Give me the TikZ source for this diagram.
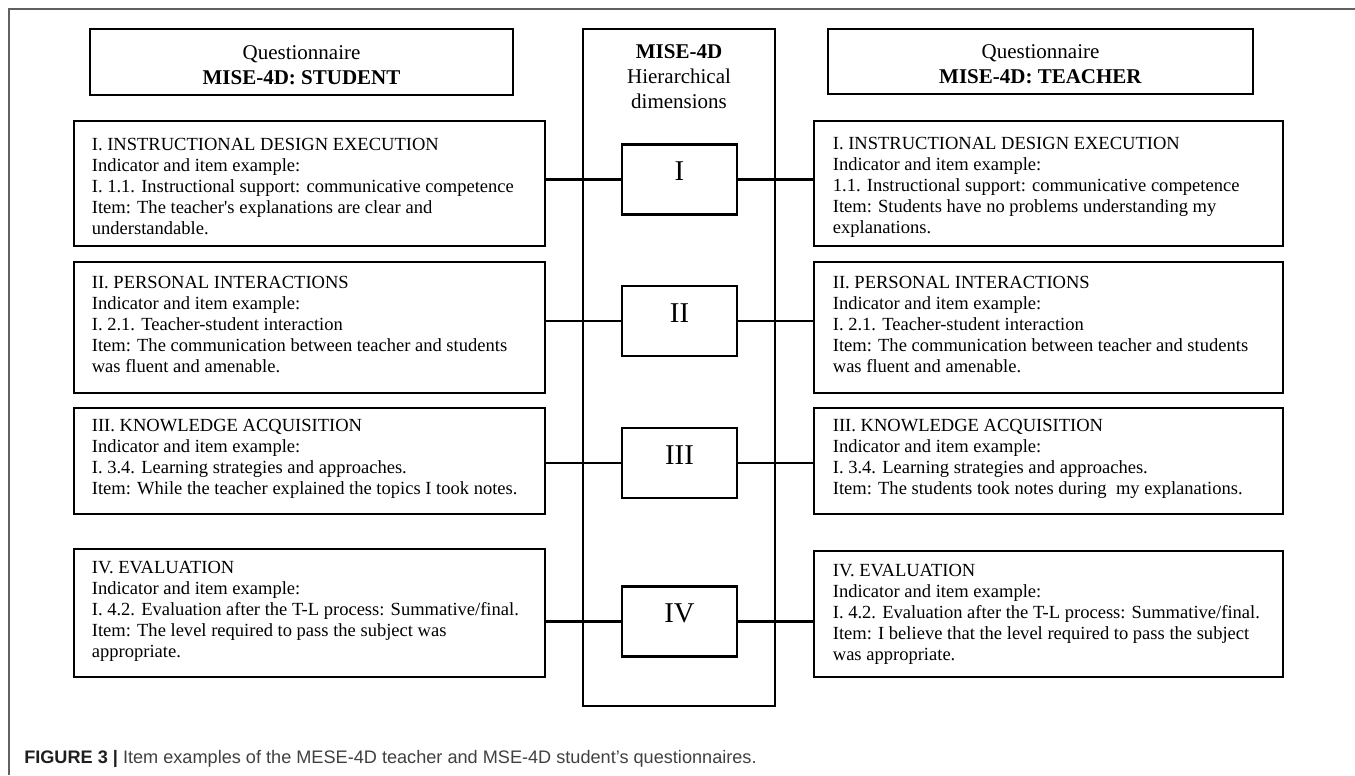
\documentclass[tikz,border=0pt]{standalone}
\usepackage{fontspec}
\setmainfont{Liberation Serif}
\newfontfamily\capfont{Liberation Sans}
\begin{document}
\begin{tikzpicture}[x=0.75pt,y=-0.75pt]
\tikzset{
  framestyle/.style={draw=black!62, line width=1.1pt},
  qbox/.style={draw=black, line width=2.1pt, rectangle, inner sep=0pt},
  conn/.style={draw=black, line width=1.8pt},
  bodytxt/.style={font=\fontsize{13.9pt}{15.75pt}\selectfont, align=left, inner sep=0pt, anchor=west},
  headtxt/.style={font=\fontsize{15.75pt}{18.75pt}\selectfont, align=center, inner sep=0pt},
  numeral/.style={font=\fontsize{21.5pt}{24pt}\selectfont, inner sep=0pt},
  sbox/.style={qbox, minimum width=471*0.75pt},
  tbox/.style={qbox, minimum width=469*0.75pt},
  rbox/.style={qbox, minimum width=115*0.75pt, minimum height=70*0.75pt},
}
\useasboundingbox (0,0) rectangle (1355,775);
% outer frame
\coordinate (fbl) at (9,775);
\coordinate (ftl) at (9,9);
\coordinate (ftr) at (1355,9);
\draw[framestyle] (fbl) -- (ftl) -- (ftr);

% headers
\node[qbox, minimum width=423*0.75pt, minimum height=66*0.75pt] (sh) at (301.5,62) {};
\node[headtxt] (sht) at ([yshift=-2.2pt]sh.center) {Questionnaire\\\textbf{MISE-4D: STUDENT}};
\node[qbox, minimum width=425*0.75pt, minimum height=65*0.75pt] (th) at (1040.5,61.5) {};
\node[headtxt] (tht) at ([yshift=-2.2pt]th.center) {Questionnaire\\\textbf{MISE-4D: TEACHER}};

% central column
\node[qbox, minimum width=192*0.75pt, minimum height=677*0.75pt] (cb) at (679,367.5) {};
\node[headtxt, anchor=north] (cbt) at (679,44) {\textbf{MISE-4D}\\Hierarchical\\dimensions};

% roman boxes
\node[rbox] (r1) at (679.5,179.5) {};
\node[rbox] (r2) at (679.5,321) {};
\node[rbox] (r3) at (679.5,463) {};
\node[rbox] (r4) at (679.5,621.5) {};
\node[numeral] (r1t) at ([yshift=6pt]r1.center) {I};
\node[numeral] (r2t) at ([yshift=6pt]r2.center) {II};
\node[numeral] (r3t) at ([yshift=6pt]r3.center) {III};
\node[numeral] (r4t) at ([yshift=6pt]r4.center) {IV};

% student boxes
\node[sbox, minimum height=125*0.75pt] (s1) at (309.5,183.5) {};
\node[sbox, minimum height=131*0.75pt] (s2) at (309.5,327.5) {};
\node[sbox, minimum height=106*0.75pt] (s3) at (309.5,461) {};
\node[sbox, minimum height=128*0.75pt] (s4) at (309.5,613) {};

% teacher boxes
\node[tbox, minimum height=125*0.75pt] (t1) at (1048.5,183.5) {};
\node[tbox, minimum height=131*0.75pt] (t2) at (1048.5,327.5) {};
\node[tbox, minimum height=106*0.75pt] (t3) at (1048.5,461) {};
\node[tbox, minimum height=126*0.75pt] (t4) at (1048.5,614) {};

% student texts
\node[bodytxt] (s1t) at ([xshift=14.25pt,yshift=-2.5pt]s1.west)
{I. INSTRUCTIONAL DESIGN EXECUTION\\
Indicator and item example:\\
I. 1.1. Instructional support: communicative competence\\
Item: The teacher\textquotesingle s explanations are clear and\\
understandable.};
\node[bodytxt] (s2t) at ([xshift=14.25pt,yshift=2.5pt]s2.west)
{II. PERSONAL INTERACTIONS\\
Indicator and item example:\\
I. 2.1. Teacher-student interaction\\
Item: The communication between teacher and students\\
was fluent and amenable.};
\node[bodytxt] (s3t) at ([xshift=14.25pt,yshift=1.5pt]s3.west)
{III. KNOWLEDGE ACQUISITION\\
Indicator and item example:\\
I. 3.4. Learning strategies and approaches.\\
Item: While the teacher explained the topics I took notes.};
\node[bodytxt] (s4t) at ([xshift=14.25pt,yshift=1pt]s4.west)
{IV. EVALUATION\\
Indicator and item example:\\
I. 4.2. Evaluation after the T-L process: Summative/final.\\
Item: The level required to pass the subject was\\
appropriate.};

% teacher texts
\node[bodytxt] (t1t) at ([xshift=15pt,yshift=-2.5pt]t1.west)
{I. INSTRUCTIONAL DESIGN EXECUTION\\
Indicator and item example:\\
1.1. Instructional support: communicative competence\\
Item: Students have no problems understanding my\\
explanations.};
\node[bodytxt] (t2t) at ([xshift=15pt,yshift=2.5pt]t2.west)
{II. PERSONAL INTERACTIONS\\
Indicator and item example:\\
I. 2.1. Teacher-student interaction\\
Item: The communication between teacher and students\\
was fluent and amenable.};
\node[bodytxt] (t3t) at ([xshift=15pt,yshift=1.5pt]t3.west)
{III. KNOWLEDGE ACQUISITION\\
Indicator and item example:\\
I. 3.4. Learning strategies and approaches.\\
Item: The students took notes during\ \ my explanations.};
\node[bodytxt] (t4t) at ([xshift=15pt,yshift=0pt]t4.west)
{IV. EVALUATION\\
Indicator and item example:\\
I. 4.2. Evaluation after the T-L process: Summative/final.\\
Item: I believe that the level required to pass the subject\\
was appropriate.};

% connectors
\foreach \i in {1,2,3,4}{
  \draw[conn] (r\i.west -| s\i.east) -- (r\i.west);
  \draw[conn] (r\i.east) -- (r\i.east -| t\i.west);
}

% caption
\node[anchor=base west, inner sep=0pt, font=\capfont\fontsize{13.6pt}{16pt}\selectfont] (cap) at (24,763)
{\textcolor{black!88}{\textbf{FIGURE 3 |}} \textcolor{black!75}{Item examples of the MESE-4D teacher and MSE-4D student’s questionnaires.}};
\end{tikzpicture}
\end{document}
